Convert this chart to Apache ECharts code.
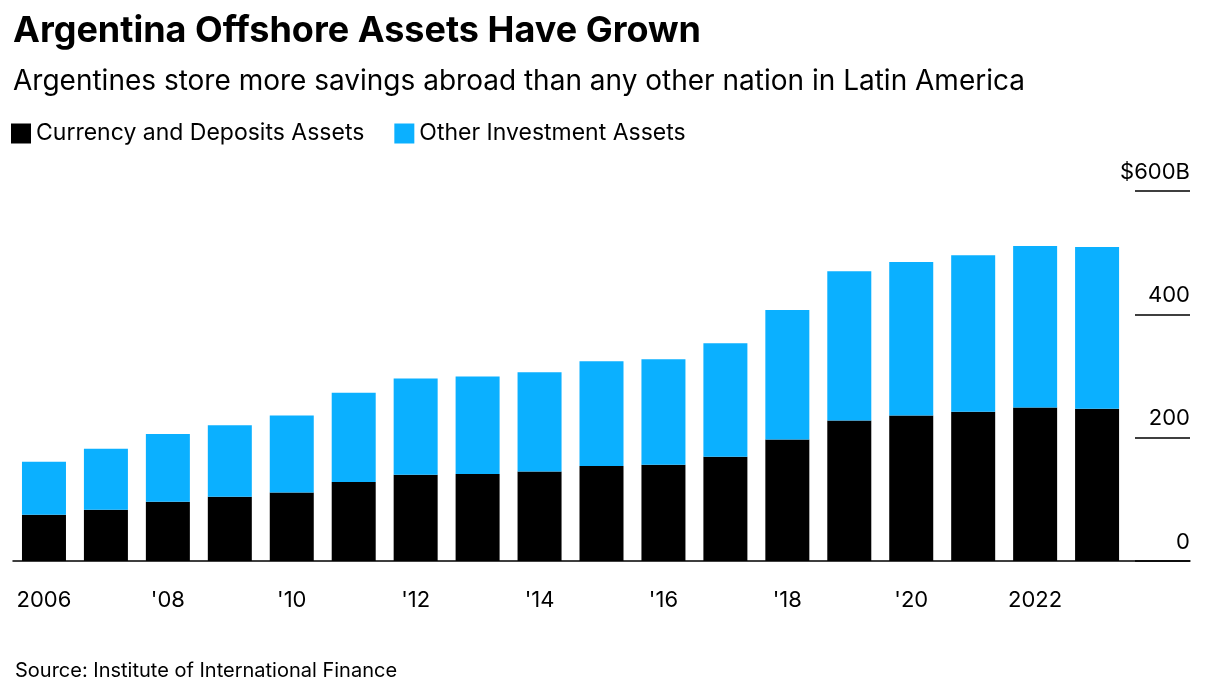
<!DOCTYPE html>
<html>
<head>
<meta charset="utf-8" />
<script src="https://cdn.jsdelivr.net/npm/echarts@6/dist/echarts.min.js"></script>
<style>
  body { margin: 0; background: #fff; }
  #chart { width: 1205px; height: 695px; }
</style>
</head>
<body>
<div id="chart"></div>
<script>
var years = ['2006', '2007', '2008', '2009', '2010', '2011', '2012', '2013', '2014', '2015', '2016', '2017', '2018', '2019', '2020', '2021', '2022', '2023', ''];
var yearLabels = ['2006', '', "'08", '', "'10", '', "'12", '', "'14", '', "'16", '', "'18", '', "'20", '', '2022', '', ''];
var currencyDeposits = [75, 83, 96, 104, 111, 128, 140, 141, 145, 154, 156, 169, 197, 228, 236, 242, 249, 247, null];
var totals = [161, 182, 206, 220, 236, 273, 296, 299, 306, 324, 327, 353, 407, 470, 485, 496, 511, 509, null];
var otherInvestment = totals.map(function(t, i) { return t == null ? null : t - currencyDeposits[i]; });

var font = 'Inter, "Liberation Sans", sans-serif';
var chart = echarts.init(document.getElementById('chart'));
chart.setOption({
	animation: false,
	title: [
		{ text: 'Argentina Offshore Assets Have Grown', left: 8, top: 8, textStyle: { fontFamily: font, fontSize: 36, fontWeight: 'bold', color: '#000' } },
		{ text: 'Argentines store more savings abroad than any other nation in Latin America', left: 8, top: 63, textStyle: { fontFamily: font, fontSize: 28, fontWeight: 'normal', color: '#000' } },
		{ text: 'Source: Institute of International Finance', left: 10, top: 656, textStyle: { fontFamily: font, fontSize: 20, fontWeight: 'normal', color: '#000' } }
	],
	legend: {
		left: 6, top: 117, itemWidth: 20, itemHeight: 20, itemGap: 30,
		icon: 'rect',
		textStyle: { fontFamily: font, fontSize: 23, color: '#000' },
		data: ['Currency and Deposits Assets', 'Other Investment Assets']
	},
	grid: { left: 13, right: 15, top: 191, bottom: 134 },
	xAxis: {
		type: 'category',
		data: years,
		axisLine: { lineStyle: { color: '#000', width: 1.5 } },
		axisTick: { show: false },
		axisLabel: {
			interval: 0, margin: 28, fontFamily: font, fontSize: 22, color: '#000',
			formatter: function(v, i) { return yearLabels[i]; }
		}
	},
	yAxis: {
		type: 'value', position: 'right', min: 0, max: 600, interval: 200,
		splitLine: { show: false },
		axisLine: { show: false },
		axisTick: { show: true, inside: true, length: 55, lineStyle: { color: '#000', width: 1.5 } },
		axisLabel: {
			inside: true, margin: 0, verticalAlign: 'bottom', padding: [0, 0, 8, 0],
			fontFamily: font, fontSize: 22, color: '#000',
			formatter: function(v) { return v === 600 ? '$600B' : String(v); }
		}
	},
	series: [
		{ name: 'Currency and Deposits Assets', type: 'bar', stack: 'a', data: currencyDeposits, barWidth: 44, itemStyle: { color: '#000000' } },
		{ name: 'Other Investment Assets', type: 'bar', stack: 'a', data: otherInvestment, barWidth: 44, itemStyle: { color: '#0bb0ff' } }
	]
});
</script>
</body>
</html>
